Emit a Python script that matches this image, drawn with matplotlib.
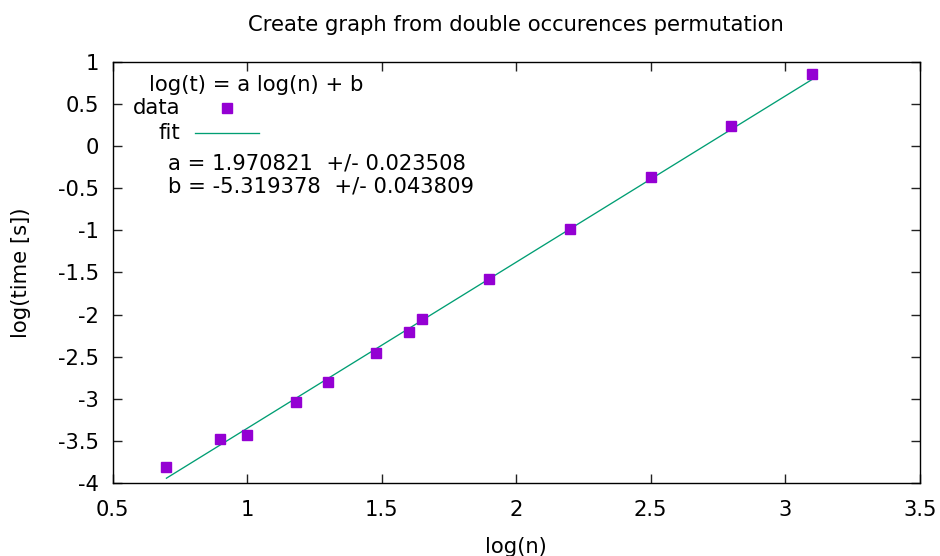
# -*- coding: UTF-8 -*-
# Description: log-log fit of the double occurences permutation timings, gnuplot look

# Libraries
import numpy as np
import matplotlib
matplotlib.use('Agg')
import matplotlib.pyplot as plt

# Data
log_n = [0.70, 0.90, 1.00, 1.18, 1.30, 1.48, 1.60, 1.65, 1.90, 2.20, 2.50, 2.80, 3.10]
log_t = [-3.81, -3.48, -3.43, -3.04, -2.80, -2.46, -2.20, -2.05, -1.58, -0.99, -0.37, 0.24, 0.85]
fit_a = 1.970821
fit_a_err = 0.023508
fit_b = -5.319378
fit_b_err = 0.043809
x_ticks = [0.5, 1, 1.5, 2, 2.5, 3, 3.5]
y_ticks = [1, 0.5, 0, -0.5, -1, -1.5, -2, -2.5, -3, -3.5, -4]

# General variables
data_color = '#9400D3'
fit_color = '#009E73'
font_size = 15.2
plt.rcParams['font.family'] = ['DejaVu Sans']
plt.rcParams['font.size'] = font_size

fig = plt.figure(figsize=(9.4, 5.56), dpi=100)
ax = fig.add_axes([0.1198, 0.1308, 0.8587, 0.7582])

# Data points and fitted line
ax.plot(log_n, log_t, linestyle='none', marker='s', markersize=6.7, color=data_color, zorder=3)
x_fit = np.array([min(log_n), max(log_n)])
ax.plot(x_fit, fit_a * x_fit + fit_b, color=fit_color, linewidth=0.95, zorder=2)

# Axes, gnuplot style (mirrored inward ticks)
ax.set_xlim(0.5, 3.5)
ax.set_ylim(-4, 1)
ax.set_xticks(x_ticks)
ax.set_yticks(y_ticks)
ax.set_xticklabels(['%g' % v for v in x_ticks])
ax.set_yticklabels(['%g' % v for v in y_ticks])
ax.tick_params(direction='in', length=6.5, width=1.0, top=True, right=True, color='#222222')
ax.tick_params(axis='x', pad=12)
ax.tick_params(axis='y', pad=10)
for spine in ax.spines.values():
    spine.set_linewidth(1.0)
ax.set_title('Create graph from double occurences permutation', fontsize=font_size, pad=22)
ax.set_xlabel('log(n)', labelpad=12)
ax.set_ylabel('log(time [s])', labelpad=19)

# Key (gnuplot layout: text first, then sample)
tr = ax.transAxes
ax.text(0.1777, 0.9447, 'log(t) = a log(n) + b', transform=tr, ha='center', va='center')
ax.text(0.0835, 0.890, 'data', transform=tr, ha='right', va='center')
ax.plot([0.1417], [0.890], transform=tr, marker='s', markersize=6.7, color=data_color, clip_on=False)
ax.text(0.0835, 0.831, 'fit', transform=tr, ha='right', va='center')
ax.plot([0.102, 0.1816], [0.831, 0.831], transform=tr, color=fit_color, linewidth=0.95)
ax.text(0.0686, 0.7597, 'a = %f  +/- %f' % (fit_a, fit_a_err), transform=tr, ha='left', va='center')
ax.text(0.0686, 0.703, 'b = %f  +/- %f' % (fit_b, fit_b_err), transform=tr, ha='left', va='center')

fig.savefig('out.png', dpi=100)
